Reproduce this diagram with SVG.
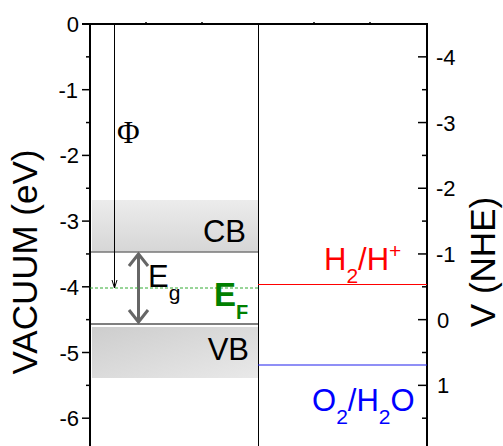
<svg xmlns="http://www.w3.org/2000/svg" width="503" height="446" viewBox="0 0 503 446">
<defs>
<linearGradient id="gcb" x1="0" y1="0" x2="0" y2="1">
<stop offset="0" stop-color="#ececec"/>
<stop offset="1" stop-color="#d6d6d6"/>
</linearGradient>
<linearGradient id="gvb" x1="0" y1="0" x2="1" y2="1">
<stop offset="0" stop-color="#cdcdcd"/>
<stop offset="1" stop-color="#e9e9e9"/>
</linearGradient>
<style>
.ax{stroke:#000;stroke-width:2;fill:none}
.tk{stroke:#000;stroke-width:1.5}
.tl{font-family:"Liberation Sans",Arial,sans-serif;font-size:22px;fill:#000}
.ttl{font-family:"Liberation Sans",Arial,sans-serif;font-size:35px;fill:#000}
.lb{font-family:"Liberation Sans",Arial,sans-serif;font-size:31px}
.sb{font-size:21px}
</style>
</defs>
<rect width="503" height="446" fill="#fff"/>
<g id="bands">
<rect x="92" y="200" width="166" height="52" fill="url(#gcb)"/>
<line x1="90" y1="252" x2="258" y2="252" stroke="#777" stroke-width="1.5"/>
<rect x="92" y="327" width="166" height="51" fill="url(#gvb)"/>
<line x1="90" y1="324" x2="258" y2="324" stroke="#555" stroke-width="1.5"/>
<text class="lb" x="246" y="242" text-anchor="end" fill="#000" font-size="31">CB</text>
<text class="lb" x="249" y="360" text-anchor="end" fill="#000" font-size="32">VB</text>
</g>
<g id="axes">
<line class="ax" x1="82" y1="24" x2="427" y2="24"/>
<line class="ax" x1="90" y1="24" x2="90" y2="446"/>
<line class="ax" x1="427" y1="23" x2="427" y2="446"/>
<line x1="258.5" y1="24" x2="258.5" y2="446" stroke="#000" stroke-width="1"/>
<g class="tk">
<line x1="82" y1="89.7" x2="90" y2="89.7"/>
<line x1="82" y1="155.4" x2="90" y2="155.4"/>
<line x1="82" y1="221.1" x2="90" y2="221.1"/>
<line x1="82" y1="286.8" x2="90" y2="286.8"/>
<line x1="82" y1="352.5" x2="90" y2="352.5"/>
<line x1="82" y1="418.2" x2="90" y2="418.2"/>
<line x1="86" y1="56.85" x2="90" y2="56.85"/>
<line x1="86" y1="122.55" x2="90" y2="122.55"/>
<line x1="86" y1="188.25" x2="90" y2="188.25"/>
<line x1="86" y1="253.95" x2="90" y2="253.95"/>
<line x1="86" y1="319.65" x2="90" y2="319.65"/>
<line x1="86" y1="385.35" x2="90" y2="385.35"/>
<line x1="418" y1="56.85" x2="427" y2="56.85"/>
<line x1="418" y1="122.55" x2="427" y2="122.55"/>
<line x1="418" y1="188.25" x2="427" y2="188.25"/>
<line x1="418" y1="253.95" x2="427" y2="253.95"/>
<line x1="418" y1="319.65" x2="427" y2="319.65"/>
<line x1="418" y1="385.35" x2="427" y2="385.35"/>
<line x1="422" y1="89.7" x2="427" y2="89.7"/>
<line x1="422" y1="155.4" x2="427" y2="155.4"/>
<line x1="422" y1="221.1" x2="427" y2="221.1"/>
<line x1="422" y1="286.8" x2="427" y2="286.8"/>
<line x1="422" y1="352.5" x2="427" y2="352.5"/>
<line x1="422" y1="418.2" x2="427" y2="418.2"/>
<line x1="146" y1="22" x2="146" y2="24"/>
<line x1="202" y1="22" x2="202" y2="24"/>
<line x1="314" y1="22" x2="314" y2="24"/>
<line x1="370" y1="22" x2="370" y2="24"/>
</g>
<g class="tl" text-anchor="end">
<text x="79" y="32">0</text>
<text x="78" y="97.7">-1</text>
<text x="79" y="163.4">-2</text>
<text x="79" y="229.1">-3</text>
<text x="79" y="294.8">-4</text>
<text x="79" y="360.5">-5</text>
<text x="79" y="426.2">-6</text>
</g>
<g class="tl">
<text x="436" y="64.85">-4</text>
<text x="436" y="130.55">-3</text>
<text x="436" y="196.25">-2</text>
<text x="436" y="261.95">-1</text>
<text x="437" y="327.65">0</text>
<text x="437" y="393.35">1</text>
</g>
<text class="ttl" transform="translate(37,262) rotate(-90)" text-anchor="middle">VACUUM (eV)</text>
<text class="ttl" transform="translate(495,262) rotate(-90)" text-anchor="middle">V (NHE)</text>
</g>
<g id="connectors">
<line x1="114.5" y1="24" x2="114.5" y2="288" stroke="#000" stroke-width="1"/>
<polyline points="112,280 114.5,288 117,280" fill="none" stroke="#000" stroke-width="1"/>
<line x1="138.5" y1="254" x2="138.5" y2="322" stroke="#666" stroke-width="3"/>
<polyline points="129,266 138.5,254 148,266" fill="none" stroke="#666" stroke-width="3"/>
<polyline points="129,310 138.5,322 148,310" fill="none" stroke="#666" stroke-width="3"/>
</g>
<g id="fermi">
<line x1="90" y1="288" x2="258" y2="288" stroke="#33aa33" stroke-width="1" stroke-dasharray="3,2"/>
<text x="214" y="306" font-family="Liberation Sans,Arial,sans-serif" font-size="33" font-weight="bold" fill="#008000">E<tspan font-size="20" dy="13">F</tspan></text>
</g>
<g id="eg">
<text class="lb" x="148" y="287" fill="#000" font-size="34">E<tspan class="sb" dy="13">g</tspan></text>
</g>
<g id="phi">
<text x="117" y="143" font-family="Liberation Serif,Times New Roman,serif" font-size="31" fill="#000">Φ</text>
</g>
<g id="h2">
<line x1="258" y1="284.5" x2="427" y2="284.5" stroke="#ff0000" stroke-width="1.2"/>
<text class="lb" x="324" y="270" fill="#ff0000">H<tspan class="sb" dy="13">2</tspan><tspan dy="-13">/H</tspan><tspan class="sb" dy="-12" font-size="18">+</tspan></text>
</g>
<g id="o2">
<line x1="258" y1="365" x2="427" y2="365" stroke="#2020ee" stroke-width="1.2"/>
<text class="lb" x="312" y="411" fill="#0000ff" font-size="32">O<tspan class="sb" dy="13">2</tspan><tspan dy="-13">/H</tspan><tspan class="sb" dy="13">2</tspan><tspan dy="-13">O</tspan></text>
</g>
</svg>
